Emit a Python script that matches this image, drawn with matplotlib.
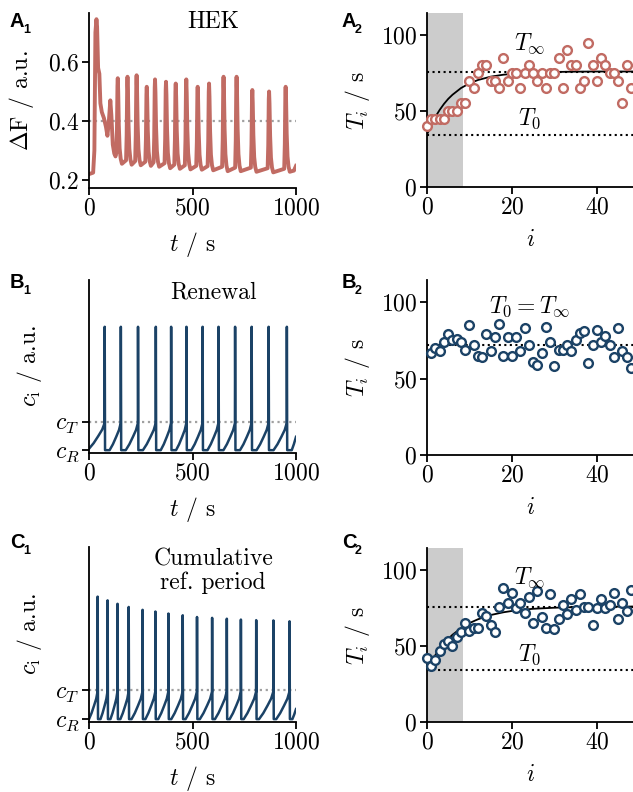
import matplotlib
matplotlib.use("Agg")
import matplotlib.pyplot as plt

plt.rcParams['font.family'] = ['cmr10', 'DejaVu Serif']
plt.rcParams['mathtext.fontset'] = 'cm'
plt.rcParams['axes.formatter.use_mathtext'] = True
plt.rcParams['font.size'] = 17
plt.rcParams['axes.linewidth'] = 1.3
plt.rcParams['xtick.major.width'] = 1.3
plt.rcParams['ytick.major.width'] = 1.3
plt.rcParams['xtick.major.size'] = 5
plt.rcParams['ytick.major.size'] = 5

# ---- data ----
# A1: HEK fluorescence trace
hek_onset_t = [0, 20, 26, 31, 36, 39, 44, 50, 55, 62, 72, 82, 89, 96, 103, 108, 115, 122, 128]
hek_onset_f = [0.22, 0.225, 0.30, 0.70, 0.745, 0.72, 0.58, 0.56, 0.46, 0.43, 0.41, 0.38,
               0.35, 0.40, 0.47, 0.42, 0.32, 0.29, 0.28]
hek_peak_t = [139, 186, 230, 279, 319, 372, 419, 470, 525, 580, 650, 713, 789, 870, 950]
hek_peak_f = [0.545, 0.55, 0.555, 0.516, 0.541, 0.533, 0.527, 0.541, 0.516, 0.527,
              0.55, 0.55, 0.505, 0.50, 0.516]
hek_trough_f = [0.255, 0.252, 0.25, 0.248, 0.245, 0.24, 0.238, 0.236, 0.235, 0.233,
                0.23, 0.23, 0.228, 0.226, 0.228]
hek_end_t = [990, 1000]
hek_end_f = [0.232, 0.248]
hek_thresh = 0.4

# B1: renewal model
ren_spike_t = [75, 153, 236, 322, 396, 470, 548, 625, 705, 785, 867, 955]
ren_peak = [4.35] * 12
ren_start, ren_end = 0.05, 0.47
ren_ref = 22

# C1: cumulative refractory period
cum_spike_t = [41, 89, 137, 191, 258, 320, 383, 452, 521, 594, 665, 733, 807, 890, 968]
cum_peak = [4.27, 4.14, 4.02, 3.91, 3.81, 3.75, 3.68, 3.62, 3.56, 3.53, 3.50, 3.47,
            3.45, 3.44, 3.41]
cum_start, cum_end = 0.0, 0.35
cum_ref = 12

# A2 / B2 / C2: interspike intervals
hek_T = [40, 45, 45, 45, 45, 50, 50, 50, 55, 55, 70, 65, 75, 80, 80, 70, 70, 65, 85, 70,
         75, 75, 65, 75, 80, 75, 70, 75, 65, 75, 75, 85, 65, 90, 80, 80, 65, 70, 95, 80,
         70, 85, 80, 75, 75, 70, 55, 80, 65]
ren_T = [67, 70, 68, 74, 79, 75, 76, 74, 69, 85, 72, 65, 64, 79, 68, 77, 86, 65, 77, 65,
         77, 68, 83, 72, 61, 59, 67, 84, 74, 58, 69, 69, 72, 68, 75, 80, 81, 60, 72, 82,
         74, 78, 72, 64, 83, 68, 64, 57]
cum_T = [42, 37, 41, 47, 51, 53, 50, 56, 59, 65, 60, 62, 62, 72, 70, 64, 59, 76, 88, 78,
         85, 75, 78, 72, 82, 65, 86, 69, 62, 84, 61, 68, 77, 71, 81, 74, 84, 76, 76, 64,
         75, 81, 75, 77, 85, 68, 78, 73, 87]
ren_i_start = 1

fit_i = [0, 1, 2, 3, 4, 5, 6, 8, 10, 12, 15, 18, 21, 25, 30, 35, 40, 49]
hek_fit_T = [34.5, 40.9, 46.3, 50.8, 54.7, 58.0, 60.7, 65.1, 68.2, 70.4, 72.6, 73.9,
             74.7, 75.4, 75.7, 75.9, 76.0, 76.0]
cum_fit_T = [34.5, 39.7, 44.2, 48.2, 51.7, 54.7, 57.4, 61.7, 65.1, 67.6, 70.4, 72.2,
             73.5, 74.5, 75.2, 75.6, 75.8, 76.0]
T_inf, T_0 = 76, 34.5
ren_T0 = 72
transient_end = 8.4

red = '#c16b63'
blue = '#1b4266'


def hek_trace():
    t = list(hek_onset_t)
    f = list(hek_onset_f)
    base = hek_onset_f[-1]
    for tp, fp, fb in zip(hek_peak_t, hek_peak_f, hek_trough_f):
        pre = base + 0.012
        for dt, fr in zip([-7, -4, -1.5, 0], [0.0, 0.3, 0.9, 1.0]):
            t.append(tp + dt)
            f.append(pre + fr * (fp - pre))
        for dt, fr in zip([2, 5, 9, 14, 20], [0.85, 0.45, 0.18, 0.06, 0.0]):
            t.append(tp + dt)
            f.append(fb + fr * (fp - fb))
        base = fb
    return t + hek_end_t, f + hek_end_f


def spike_trace(spk, peaks, ref, c0, c_end):
    t, c = [], []
    ft = [0, 0.3, 0.6, 0.85, 1.0]
    fc = [0, 0.22, 0.5, 0.75, 1.0]
    t0, cs = 0, c0
    for ts, pk in zip(spk, peaks):
        for a, b in zip(ft, fc):
            t.append(t0 + a * (ts - t0))
            c.append(cs + b * (0.95 - cs))
        t += [ts + 0.8, ts + 2.5]
        c += [pk, 0]
        t0, cs = ts + 2.5 + ref, 0
        t.append(t0)
        c.append(0)
    t += [t0 + 0.5 * (1000 - t0), 1000]
    c += [0.45 * c_end, c_end]
    return t, c


W, H = 633, 792
fig = plt.figure(figsize=(W / 100, H / 100), dpi=100)


def px_axes(left, top, right, bottom):
    ax = fig.add_axes([left / W, 1 - bottom / H, (right - left) / W, (bottom - top) / H])
    ax.spines['top'].set_visible(False)
    ax.spines['right'].set_visible(False)
    ax.tick_params(pad=2)
    return ax


# ---- left column: traces ----
axA1 = px_axes(89, 13, 296, 188)
ht, hf = hek_trace()
axA1.axhline(hek_thresh, color='#a0a0a0', ls=':', lw=1.6, zorder=1)
axA1.plot(ht, hf, color=red, lw=2.8, solid_joinstyle='round')
axA1.set_xlim(0, 1000)
axA1.set_ylim(0.173, 0.766)
axA1.set_yticks([0.2, 0.4, 0.6])
axA1.set_xticks([0, 500, 1000])
axA1.set_ylabel(r'$\Delta$F / a.u.')
axA1.text(0.6, 0.95, 'HEK', transform=axA1.transAxes, ha='center', va='center')

axB1 = px_axes(89, 280, 296, 453)
bt, bc = spike_trace(ren_spike_t, ren_peak, ren_ref, ren_start, ren_end)
axB1.axhline(1, color='#a0a0a0', ls=':', lw=1.6, zorder=1)
axB1.plot(bt, bc, color=blue, lw=1.8)
axB1.text(0.6, 0.93, 'Renewal', transform=axB1.transAxes, ha='center', va='center')

axC1 = px_axes(89, 547, 296, 722)
ct, cc = spike_trace(cum_spike_t, cum_peak, cum_ref, cum_start, cum_end)
axC1.axhline(1, color='#a0a0a0', ls=':', lw=1.6, zorder=1)
axC1.plot(ct, cc, color=blue, lw=1.8)
axC1.text(0.6, 0.86, 'Cumulative\nref. period', transform=axC1.transAxes,
          ha='center', va='center', linespacing=1.05)

for ax in (axB1, axC1):
    ax.set_xlim(0, 1000)
    ax.set_ylim(-0.1, 6.0)
    ax.set_yticks([0, 1])
    ax.set_yticklabels(['$c_R$', '$c_T$'])
    ax.set_xticks([0, 500, 1000])
    ax.set_ylabel(r'$c_{\mathrm{i}}$ / a.u.')
    ax.yaxis.set_label_coords(-0.215, 0.5)

axA1.yaxis.set_label_coords(-0.255, 0.5)
for ax in (axA1, axB1, axC1):
    ax.set_xlabel('$t$ / s')
    ax.xaxis.set_label_coords(0.5, -0.24)

# ---- right column: intervals ----
axA2 = px_axes(427, 13, 633, 187)
axB2 = px_axes(427, 280, 633, 455)
axC2 = px_axes(427, 548, 633, 722)

mk = dict(ls='none', marker='o', ms=6.3, mew=1.7, mfc='white', clip_on=False, zorder=4)

axA2.axvspan(0, transient_end, color='#cccccc', lw=0, zorder=0)
axA2.axhline(T_inf, color='k', ls=':', lw=1.5, zorder=1)
axA2.axhline(T_0, color='k', ls=':', lw=1.5, zorder=1)
axA2.plot(fit_i, hek_fit_T, color='k', lw=1.3, zorder=2)
axA2.plot(range(len(hek_T)), hek_T, mec=red, **mk)
axA2.text(24.2, 94.5, r'$T_\infty$', ha='center', va='center', zorder=5)
axA2.text(24.2, 45, r'$T_0$', ha='center', va='center', zorder=5)

axB2.axhline(ren_T0, color='k', ls=':', lw=1.5, zorder=1)
axB2.plot(range(ren_i_start, ren_i_start + len(ren_T)), ren_T, mec=blue, **mk)
axB2.text(24.2, 96.7, r'$T_0 = T_\infty$', ha='center', va='center', zorder=5)

axC2.axvspan(0, transient_end, color='#cccccc', lw=0, zorder=0)
axC2.axhline(T_inf, color='k', ls=':', lw=1.5, zorder=1)
axC2.axhline(T_0, color='k', ls=':', lw=1.5, zorder=1)
axC2.plot(fit_i, cum_fit_T, color='k', lw=1.3, zorder=2)
axC2.plot(range(len(cum_T)), cum_T, mec=blue, **mk)
axC2.text(24.2, 95, r'$T_\infty$', ha='center', va='center', zorder=5)
axC2.text(24.2, 44, r'$T_0$', ha='center', va='center', zorder=5)

for ax in (axA2, axB2, axC2):
    ax.set_xlim(0, 48.5)
    ax.set_ylim(0, 114.5)
    ax.set_xticks([0, 20, 40])
    ax.set_yticks([0, 50, 100])
    ax.set_xlabel('$i$')
    ax.set_ylabel('$T_i$ / s')
    ax.yaxis.set_label_coords(-0.265, 0.5)
    ax.xaxis.set_label_coords(0.5, -0.24)

# ---- panel labels ----
for letter, y in (('A', 27), ('B', 288), ('C', 548)):
    for k, x in ((1, 10), (2, 342)):
        fig.text(x / W, 1 - y / H, letter, family='Liberation Sans', weight='bold',
                 fontsize=14.5, va='baseline', ha='left')
        fig.text((x + 13) / W, 1 - (y + 6) / H, str(k), family='Liberation Sans',
                 weight='bold', fontsize=9, va='baseline', ha='left')

fig.savefig('out.png', dpi=100)
